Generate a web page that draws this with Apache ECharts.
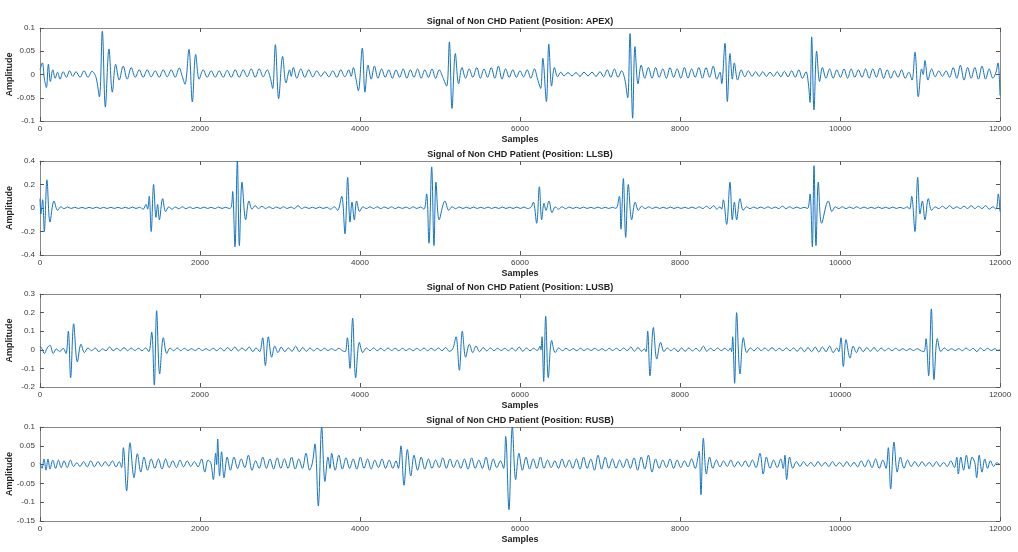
<!DOCTYPE html>
<html>
<head>
<meta charset="utf-8">
<script src="https://cdn.jsdelivr.net/npm/echarts@6/dist/echarts.min.js"></script>
<style>
  html, body { margin: 0; background: #fff; }
  #chart { width: 1018px; height: 552px; }
</style>
</head>
<body>
<div id="chart"></div>
<script>
// peaks and troughs, as [sample, amplitude]
const apex = [
  [0,0.01],[30,0.025],[55,-0.01],[80,-0.028],[105,0.022],[130,-0.015],[160,0.01],[190,-0.008],[220,0.005],[250,-0.01],
  [290,0.006],[330,-0.006],[370,0.008],[410,-0.004],[450,0.006],[500,-0.006],[550,0.008],[600,-0.006],[650,0.007],[700,-0.006],
  [742,-0.048],[779,0.093],[817,-0.07],[862,0.055],[904,-0.038],[946,0.022],[990,-0.012],[1040,0.018],[1090,-0.01],[1140,0.015],
  [1190,-0.006],[1240,0.01],[1290,-0.006],[1340,0.01],[1390,-0.005],[1440,0.008],[1490,-0.006],[1540,0.01],[1590,-0.005],[1640,0.01],
  [1690,-0.006],[1740,0.014],[1780,-0.005],[1812,-0.021],[1862,0.054],[1904,-0.059],[1946,0.043],[1990,-0.01],[2040,0.01],[2090,-0.006],
  [2140,0.008],[2190,-0.006],[2240,0.008],[2290,-0.006],[2340,0.009],[2390,-0.006],[2440,0.01],[2490,-0.006],[2540,0.01],[2590,-0.005],
  [2640,0.012],[2690,-0.006],[2740,0.012],[2790,-0.005],[2840,0.01],[2880,-0.008],[2908,-0.03],[2942,0.064],[2983,-0.052],[3033,0.039],
  [3075,-0.018],[3120,0.01],[3140,-0.004],[3167,0.015],[3210,-0.008],[3260,0.012],[3310,-0.006],[3360,0.01],[3410,-0.005],[3460,0.008],
  [3510,-0.004],[3560,0.006],[3610,-0.005],[3660,0.008],[3710,-0.006],[3760,0.01],[3810,-0.005],[3860,0.01],[3890,-0.004],[3917,0.015],
  [3950,-0.01],[3979,-0.035],[4029,0.057],[4062,-0.038],[4100,0.02],[4140,-0.01],[4180,0.018],[4225,-0.008],[4270,0.012],[4315,-0.006],
  [4360,0.01],[4405,-0.008],[4450,0.01],[4495,-0.006],[4540,0.012],[4585,-0.008],[4630,0.01],[4675,-0.006],[4720,0.012],[4765,-0.008],
  [4810,0.01],[4855,-0.006],[4900,0.012],[4945,-0.008],[4990,0.01],[5035,-0.006],[5083,-0.025],[5117,0.07],[5150,-0.073],[5192,0.045],
  [5233,-0.02],[5275,0.015],[5320,-0.008],[5365,0.012],[5410,-0.006],[5460,0.015],[5505,-0.008],[5550,0.012],[5595,-0.006],[5640,0.015],
  [5685,-0.008],[5730,0.018],[5775,-0.01],[5820,0.012],[5865,-0.006],[5910,0.01],[5955,-0.006],[6000,0.008],[6045,-0.005],[6090,0.01],
  [6135,-0.008],[6180,0.012],[6220,-0.01],[6258,-0.03],[6285,0.035],[6330,-0.058],[6360,0.065],[6395,-0.025],[6430,0.015],[6470,-0.005],
  [6510,0.005],[6550,-0.003],[6600,0.004],[6650,-0.003],[6700,0.004],[6750,-0.004],[6800,0.005],[6850,-0.003],[6900,0.005],[6950,-0.004],
  [7000,0.006],[7045,-0.005],[7090,0.01],[7135,-0.006],[7180,0.012],[7225,-0.006],[7270,0.008],[7310,-0.01],[7346,-0.05],[7375,0.088],
  [7408,-0.094],[7437,0.06],[7475,-0.02],[7515,0.02],[7560,-0.008],[7605,0.015],[7650,-0.008],[7695,0.015],[7740,-0.006],[7785,0.012],
  [7830,-0.008],[7875,0.015],[7920,-0.006],[7965,0.012],[8010,-0.008],[8055,0.015],[8100,-0.008],[8145,0.012],[8190,-0.006],[8235,0.015],
  [8280,-0.008],[8325,0.015],[8370,-0.006],[8415,0.018],[8460,-0.01],[8500,0.005],[8521,-0.02],[8562,0.067],[8592,-0.058],[8625,0.045],
  [8655,-0.01],[8679,0.025],[8720,-0.012],[8765,0.01],[8810,-0.005],[8855,0.008],[8900,-0.004],[8945,0.006],[8990,-0.004],[9035,0.006],
  [9080,-0.004],[9125,0.005],[9170,-0.004],[9215,0.006],[9260,-0.005],[9305,0.007],[9350,-0.005],[9395,0.008],[9440,-0.006],[9485,0.01],
  [9530,-0.008],[9575,0.006],[9605,-0.02],[9625,-0.06],[9646,0.081],[9675,-0.076],[9708,0.05],[9745,-0.015],[9780,0.015],[9825,-0.008],
  [9870,0.012],[9915,-0.008],[9960,0.01],[10005,-0.006],[10050,0.012],[10095,-0.008],[10140,0.012],[10185,-0.006],[10230,0.01],[10275,-0.006],
  [10320,0.012],[10365,-0.008],[10410,0.012],[10455,-0.006],[10500,0.014],[10545,-0.008],[10590,0.01],[10635,-0.008],[10680,0.008],[10725,-0.006],
  [10770,0.01],[10815,-0.008],[10860,0.005],[10900,-0.012],[10937,0.048],[10979,-0.048],[11020,0.012],[11040,0.0],[11062,0.03],[11100,-0.012],
  [11145,0.012],[11190,-0.005],[11235,0.008],[11280,-0.004],[11325,0.008],[11370,-0.006],[11415,0.015],[11460,-0.008],[11505,0.02],[11550,-0.012],
  [11595,0.015],[11640,-0.008],[11685,0.015],[11730,-0.01],[11775,0.018],[11820,-0.01],[11865,0.012],[11910,-0.008],[11950,0.005],[11975,0.025],
  [12000,-0.045]
];

const llsb = [
  [0,0.08],[12,-0.05],[33,0.07],[54,-0.2],[87,0.24],[125,-0.12],[175,0.06],[220,-0.02],[260,0.01],[300,-0.005],
  [345,0.008],[390,-0.004],[435,0.006],[480,-0.004],[525,0.005],[570,-0.004],[615,0.006],[660,-0.004],[705,0.007],[750,-0.004],
  [795,0.005],[840,-0.004],[885,0.006],[930,-0.004],[975,0.006],[1020,-0.004],[1065,0.006],[1110,-0.004],[1155,0.008],[1200,-0.004],
  [1245,0.006],[1290,-0.01],[1325,0.03],[1345,-0.01],[1365,0.1],[1390,-0.2],[1420,0.2],[1450,-0.08],[1470,0.03],[1492,-0.1],
  [1533,0.08],[1570,-0.03],[1610,0.01],[1650,-0.01],[1690,0.008],[1735,-0.006],[1780,0.01],[1825,-0.006],[1870,0.008],[1915,-0.005],
  [1960,0.006],[2005,-0.004],[2050,0.008],[2095,-0.004],[2140,0.006],[2185,-0.005],[2230,0.008],[2275,-0.004],[2320,0.006],[2365,-0.004],
  [2392,0.01],[2408,0.14],[2437,-0.33],[2467,0.4],[2492,-0.32],[2525,0.22],[2571,-0.1],[2612,0.06],[2650,-0.01],[2690,0.02],
  [2730,-0.005],[2775,0.015],[2820,-0.004],[2865,0.01],[2910,-0.005],[2955,0.008],[3000,-0.004],[3045,0.01],[3090,-0.004],[3135,0.008],
  [3180,-0.005],[3225,0.02],[3270,-0.005],[3315,0.008],[3360,-0.004],[3405,0.006],[3450,-0.004],[3495,0.008],[3540,-0.004],[3585,0.006],
  [3630,-0.01],[3680,0.01],[3720,-0.02],[3771,0.1],[3812,-0.22],[3846,0.26],[3875,-0.12],[3900,0.05],[3929,-0.1],[3958,0.06],
  [3995,-0.03],[4035,0.01],[4080,-0.005],[4125,0.01],[4170,-0.004],[4215,0.01],[4260,-0.005],[4305,0.008],[4350,-0.004],[4395,0.01],
  [4440,-0.005],[4485,0.008],[4530,-0.004],[4575,0.008],[4620,-0.005],[4665,0.01],[4710,-0.004],[4755,0.008],[4800,-0.01],[4833,0.12],
  [4862,-0.3],[4896,0.35],[4925,-0.32],[4950,0.22],[4990,-0.1],[5062,0.06],[5110,-0.02],[5150,0.01],[5195,-0.005],[5240,0.008],
  [5285,-0.004],[5330,0.006],[5375,-0.004],[5420,0.008],[5465,-0.004],[5510,0.006],[5555,-0.004],[5600,0.008],[5645,-0.004],[5690,0.006],
  [5735,-0.004],[5780,0.008],[5825,-0.004],[5870,0.006],[5915,-0.004],[5960,0.008],[6005,-0.004],[6050,0.008],[6095,-0.005],[6140,0.01],
  [6167,0.05],[6208,-0.13],[6242,0.18],[6271,-0.1],[6300,0.04],[6325,-0.02],[6362,0.06],[6400,-0.04],[6440,0.01],[6480,-0.01],
  [6525,0.01],[6570,-0.005],[6615,0.008],[6660,-0.004],[6705,0.006],[6750,-0.004],[6795,0.008],[6840,-0.004],[6885,0.006],[6930,-0.004],
  [6975,0.008],[7020,-0.004],[7065,0.006],[7110,-0.004],[7155,0.006],[7200,-0.004],[7242,0.1],[7262,-0.18],[7292,0.25],[7321,-0.25],
  [7354,0.2],[7396,-0.1],[7440,0.05],[7480,-0.02],[7520,0.015],[7565,-0.005],[7610,0.01],[7655,-0.004],[7700,0.008],[7745,-0.004],
  [7790,0.006],[7835,-0.004],[7880,0.008],[7925,-0.004],[7970,0.006],[8015,-0.004],[8060,0.006],[8105,-0.004],[8150,0.008],[8195,-0.004],
  [8240,0.01],[8285,-0.005],[8330,0.015],[8375,-0.005],[8420,0.02],[8460,-0.01],[8500,0.01],[8520,-0.01],[8542,0.07],[8583,-0.14],
  [8625,0.22],[8654,-0.1],[8680,0.05],[8708,-0.1],[8750,0.08],[8790,-0.02],[8830,0.01],[8875,-0.005],[8920,0.008],[8965,-0.004],
  [9010,0.008],[9055,-0.004],[9100,0.01],[9145,-0.004],[9190,0.008],[9235,-0.005],[9280,0.015],[9325,-0.005],[9370,0.01],[9415,-0.004],
  [9460,0.008],[9505,-0.004],[9550,0.006],[9595,-0.004],[9625,0.12],[9654,-0.33],[9675,0.36],[9700,-0.32],[9729,0.22],[9770,-0.13],
  [9854,0.06],[9900,-0.03],[9940,0.01],[9985,-0.005],[10030,0.01],[10075,-0.005],[10120,0.008],[10165,-0.004],[10210,0.01],[10255,-0.004],
  [10300,0.008],[10345,-0.004],[10390,0.006],[10435,-0.004],[10480,0.008],[10525,-0.004],[10570,0.006],[10615,-0.004],[10660,0.008],[10705,-0.004],
  [10750,0.006],[10795,-0.004],[10840,0.01],[10870,-0.01],[10896,0.1],[10937,-0.2],[10971,0.26],[11000,-0.05],[11030,0.06],[11062,-0.1],
  [11104,0.08],[11145,-0.02],[11190,0.01],[11235,-0.005],[11280,0.015],[11325,-0.005],[11370,0.02],[11415,-0.005],[11460,0.01],[11505,-0.005],
  [11550,0.015],[11595,-0.005],[11640,0.02],[11685,-0.005],[11730,0.015],[11775,-0.005],[11820,0.02],[11865,-0.01],[11910,0.01],[11950,-0.01],
  [11979,0.12],[12000,-0.03]
];

const lusb = [
  [0,0.02],[25,0.005],[55,-0.02],[90,0.01],[125,0.025],[165,-0.02],[205,0.005],[245,-0.01],[290,0.008],[325,-0.02],
  [354,0.1],[383,-0.15],[421,0.14],[467,-0.065],[513,0.03],[555,-0.015],[600,0.01],[645,-0.005],[690,0.01],[735,-0.01],
  [780,0.005],[825,-0.005],[870,0.015],[915,-0.005],[960,0.008],[1005,-0.005],[1050,0.012],[1095,-0.005],[1140,0.01],[1185,-0.004],
  [1230,0.008],[1275,-0.005],[1320,0.01],[1360,-0.01],[1396,0.095],[1429,-0.19],[1458,0.21],[1496,-0.13],[1542,0.065],[1585,-0.02],
  [1625,0.01],[1670,-0.005],[1715,0.01],[1760,-0.005],[1805,0.008],[1850,-0.004],[1895,0.006],[1940,-0.004],[1985,0.008],[2030,-0.004],
  [2075,0.006],[2120,-0.004],[2165,0.008],[2210,-0.005],[2255,0.01],[2300,-0.006],[2345,0.012],[2390,-0.005],[2435,0.015],[2480,-0.006],
  [2525,0.01],[2570,-0.005],[2615,0.015],[2660,-0.01],[2700,0.01],[2745,-0.01],[2783,0.065],[2817,-0.085],[2854,0.07],[2896,-0.04],
  [2935,0.02],[2975,-0.015],[3015,0.015],[3060,-0.01],[3105,0.01],[3150,-0.008],[3195,0.02],[3240,-0.01],[3285,0.012],[3330,-0.008],
  [3375,0.01],[3420,-0.006],[3465,0.008],[3510,-0.005],[3555,0.008],[3600,-0.004],[3645,0.006],[3690,-0.004],[3735,0.008],[3780,-0.005],
  [3815,-0.01],[3842,0.065],[3875,-0.1],[3908,0.17],[3946,-0.15],[3992,0.04],[4035,-0.015],[4080,0.01],[4125,-0.005],[4170,0.01],
  [4215,-0.005],[4260,0.008],[4305,-0.005],[4350,0.01],[4395,-0.004],[4440,0.008],[4485,-0.005],[4530,0.008],[4575,-0.004],[4620,0.006],
  [4665,-0.005],[4710,0.008],[4755,-0.004],[4800,0.01],[4845,-0.005],[4890,0.008],[4935,-0.004],[4980,0.01],[5025,-0.005],[5070,0.012],
  [5115,-0.008],[5160,0.005],[5200,0.07],[5242,-0.11],[5279,0.1],[5321,-0.04],[5367,0.03],[5410,-0.015],[5450,0.02],[5495,-0.01],
  [5540,0.012],[5585,-0.006],[5630,0.01],[5675,-0.005],[5720,0.008],[5765,-0.004],[5810,0.008],[5855,-0.005],[5900,0.01],[5945,-0.006],
  [5990,0.015],[6035,-0.008],[6080,0.01],[6125,-0.005],[6170,0.008],[6215,-0.004],[6252,0.02],[6262,0.0],[6275,0.07],[6296,-0.17],
  [6321,0.18],[6354,-0.15],[6396,0.05],[6440,-0.015],[6485,0.01],[6530,-0.005],[6575,0.008],[6620,-0.004],[6665,0.006],[6710,-0.005],
  [6755,0.008],[6800,-0.004],[6845,0.006],[6890,-0.004],[6935,0.008],[6980,-0.004],[7025,0.006],[7070,-0.005],[7115,0.008],[7160,-0.004],
  [7205,0.008],[7250,-0.005],[7295,0.01],[7340,-0.005],[7385,0.015],[7430,-0.008],[7475,0.012],[7520,-0.008],[7555,0.005],[7575,-0.01],
  [7596,0.1],[7625,-0.14],[7667,0.12],[7710,-0.05],[7758,0.04],[7800,-0.01],[7840,0.01],[7885,-0.005],[7930,0.008],[7975,-0.01],
  [8020,0.01],[8065,-0.008],[8110,0.01],[8155,-0.006],[8200,0.008],[8245,-0.008],[8292,0.02],[8335,-0.008],[8380,0.008],[8425,-0.005],
  [8470,0.01],[8515,-0.005],[8560,0.008],[8605,-0.005],[8630,0.01],[8645,-0.01],[8658,0.07],[8683,-0.18],[8708,0.2],[8750,-0.13],
  [8792,0.065],[8835,-0.015],[8880,0.01],[8925,-0.006],[8970,0.012],[9015,-0.005],[9060,0.01],[9105,-0.005],[9150,0.012],[9195,-0.005],
  [9240,0.008],[9285,-0.005],[9330,0.01],[9375,-0.006],[9420,0.01],[9465,-0.008],[9510,0.012],[9555,-0.01],[9600,0.012],[9645,-0.01],
  [9690,0.015],[9735,-0.012],[9780,0.015],[9825,-0.01],[9870,0.02],[9915,-0.015],[9960,0.01],[9985,-0.01],[10012,0.065],[10042,-0.09],
  [10075,0.055],[10125,-0.045],[10165,0.02],[10205,-0.015],[10245,0.015],[10290,-0.01],[10335,0.012],[10380,-0.008],[10425,0.012],[10470,-0.008],
  [10515,0.01],[10560,-0.006],[10605,0.008],[10650,-0.005],[10695,0.008],[10740,-0.004],[10785,0.006],[10830,-0.004],[10875,0.006],[10920,-0.004],
  [10965,0.006],[11010,-0.005],[11050,-0.01],[11075,0.06],[11108,-0.14],[11142,0.22],[11175,-0.16],[11217,0.06],[11260,-0.01],[11305,0.01],
  [11350,-0.004],[11395,0.006],[11440,-0.004],[11485,0.006],[11530,-0.005],[11575,0.01],[11620,-0.004],[11665,0.008],[11710,-0.01],[11755,0.01],
  [11800,-0.005],[11845,0.008],[11890,-0.004],[11935,0.006],[11970,-0.003],[12000,0.0]
];

const rusb = [
  [0,0.005],[25,-0.01],[50,0.015],[75,-0.015],[100,0.015],[125,-0.012],[160,0.012],[195,-0.01],[230,0.012],[265,-0.008],
  [300,0.01],[340,-0.008],[380,0.012],[420,-0.005],[460,0.005],[500,-0.005],[545,0.008],[590,-0.006],[635,0.01],[680,-0.006],
  [725,0.008],[770,-0.005],[815,0.008],[860,-0.004],[905,0.01],[950,-0.006],[990,0.008],[1020,-0.008],[1042,0.045],[1083,-0.07],
  [1125,0.058],[1175,-0.035],[1217,0.029],[1260,-0.02],[1300,0.02],[1345,-0.015],[1390,0.015],[1435,-0.01],[1480,0.015],[1525,-0.012],
  [1570,0.015],[1615,-0.008],[1660,0.01],[1705,-0.008],[1750,0.012],[1795,-0.006],[1840,0.01],[1885,-0.005],[1930,0.008],[1975,-0.006],
  [2020,0.015],[2060,-0.02],[2100,0.012],[2135,0.005],[2167,-0.04],[2195,0.03],[2208,0.0],[2221,0.068],[2245,-0.03],[2270,0.034],
  [2300,-0.035],[2340,0.02],[2380,-0.015],[2425,0.02],[2470,-0.01],[2515,0.015],[2560,-0.008],[2605,0.025],[2650,-0.015],[2695,0.01],
  [2740,-0.01],[2785,0.02],[2830,-0.01],[2875,0.015],[2920,-0.012],[2965,0.018],[3010,-0.01],[3055,0.015],[3100,-0.01],[3145,0.02],
  [3190,-0.012],[3235,0.015],[3280,-0.01],[3325,0.03],[3370,-0.015],[3405,0.005],[3437,0.055],[3479,-0.11],[3521,0.1],[3562,-0.045],
  [3600,0.02],[3625,-0.01],[3646,0.03],[3690,-0.015],[3735,0.025],[3780,-0.012],[3825,0.018],[3870,-0.01],[3915,0.015],[3960,-0.012],
  [4005,0.02],[4050,-0.01],[4095,0.015],[4140,-0.012],[4185,0.012],[4230,-0.008],[4275,0.015],[4320,-0.01],[4365,0.012],[4410,-0.01],
  [4450,0.01],[4480,-0.01],[4512,0.05],[4550,-0.055],[4592,0.04],[4635,-0.03],[4675,0.025],[4720,-0.015],[4765,0.02],[4810,-0.012],
  [4855,0.015],[4900,-0.01],[4945,0.012],[4990,-0.008],[5035,0.018],[5080,-0.01],[5125,0.015],[5170,-0.008],[5215,0.012],[5260,-0.01],
  [5305,0.015],[5350,-0.012],[5395,0.018],[5440,-0.01],[5485,0.012],[5530,-0.01],[5575,0.02],[5620,-0.015],[5665,0.015],[5710,-0.008],
  [5755,0.01],[5795,-0.01],[5821,0.075],[5862,-0.12],[5904,0.1],[5946,-0.04],[5987,0.03],[6030,-0.015],[6075,0.02],[6120,-0.012],
  [6165,0.015],[6210,-0.01],[6255,0.02],[6300,-0.01],[6345,0.012],[6390,-0.008],[6435,0.01],[6480,-0.01],[6525,0.015],[6570,-0.008],
  [6615,0.012],[6660,-0.01],[6705,0.015],[6750,-0.012],[6795,0.02],[6840,-0.01],[6885,0.015],[6930,-0.015],[6975,0.025],[7020,-0.012],
  [7065,0.02],[7110,-0.01],[7155,0.015],[7200,-0.01],[7245,0.012],[7290,-0.008],[7335,0.015],[7380,-0.01],[7425,0.018],[7470,-0.015],
  [7515,0.02],[7560,-0.012],[7605,0.025],[7650,-0.02],[7695,0.015],[7740,-0.01],[7785,0.012],[7830,-0.008],[7875,0.015],[7920,-0.01],
  [7965,0.012],[8010,-0.008],[8055,0.01],[8100,-0.006],[8145,0.015],[8190,-0.01],[8225,0.02],[8240,0.035],[8262,-0.08],[8292,0.07],
  [8330,-0.025],[8370,0.02],[8410,-0.01],[8455,0.012],[8500,-0.006],[8545,0.01],[8590,-0.005],[8635,0.012],[8680,-0.006],[8725,0.008],
  [8770,-0.005],[8815,0.01],[8860,-0.006],[8905,0.012],[8950,-0.008],[9000,0.03],[9040,-0.025],[9080,0.02],[9125,-0.01],[9170,0.012],
  [9215,-0.008],[9260,0.015],[9290,-0.01],[9312,0.025],[9333,-0.04],[9370,0.02],[9410,-0.01],[9455,0.008],[9500,-0.005],[9545,0.008],
  [9590,-0.004],[9635,0.006],[9680,-0.005],[9725,0.008],[9770,-0.004],[9815,0.006],[9860,-0.005],[9905,0.008],[9950,-0.004],[9995,0.006],
  [10040,-0.005],[10085,0.008],[10130,-0.005],[10175,0.006],[10220,-0.006],[10265,0.01],[10310,-0.006],[10355,0.012],[10400,-0.008],[10445,0.015],
  [10490,-0.01],[10535,0.012],[10575,-0.01],[10604,0.045],[10633,-0.065],[10675,0.06],[10715,-0.02],[10755,0.02],[10800,-0.01],[10845,0.012],
  [10890,-0.005],[10935,0.008],[10980,-0.005],[11025,0.008],[11070,-0.004],[11115,0.006],[11160,-0.005],[11205,0.008],[11250,-0.005],[11295,0.006],
  [11340,-0.005],[11385,0.01],[11430,-0.008],[11460,0.02],[11479,-0.025],[11510,0.02],[11545,-0.015],[11580,0.025],[11615,-0.012],[11650,0.02],
  [11685,0.005],[11708,-0.035],[11740,0.025],[11775,-0.02],[11810,0.015],[11845,-0.01],[11880,0.01],[11920,-0.005],[11960,0.005],[12000,0.0]
];

const positions = ['APEX', 'LLSB', 'LUSB', 'RUSB'];
const traces = [apex, llsb, lusb, rusb];
const yMins = [-0.1, -0.4, -0.2, -0.15];
const yMaxs = [0.1, 0.4, 0.3, 0.1];
const yIntervals = [0.05, 0.2, 0.1, 0.05];
const xMax = 12000;
const xInterval = 2000;

// layout of the four panels
const panelTop = [28, 161, 294, 427];
const panelHeight = [93, 94, 93, 94];

const lineColor = '#1673c2';
const boxColor = '#8a8a8a';
const textColor = '#3a3a3a';
const font = 'Liberation Sans, Arial, sans-serif';
const plain = v => String(v);

const grid = [];
const xAxis = [];
const yAxis = [];
const series = [];

positions.forEach((pos, i) => {
  grid.push({
    left: 40, width: 960, top: panelTop[i], height: panelHeight[i],
    containLabel: false, outerBoundsMode: 'none'
  });

  const tick = { show: true, inside: true, length: 4, lineStyle: { color: '#555' } };
  const line = { show: true, onZero: false, lineStyle: { color: boxColor, width: 1 } };

  // bottom axis with labels
  xAxis.push({
    type: 'value', gridIndex: i, min: 0, max: xMax, interval: xInterval,
    position: 'bottom',
    axisLine: line, axisTick: tick, splitLine: { show: false },
    axisLabel: { color: textColor, fontSize: 8, fontFamily: font, margin: 4, formatter: plain,
                 showMinLabel: true, showMaxLabel: true },
    name: 'Samples', nameLocation: 'middle', nameGap: 14, nameMoveOverlap: false,
    nameTextStyle: { color: '#222', fontSize: 9, fontWeight: 'bold', fontFamily: font }
  });
  // top axis: mirrored ticks, carries the panel title
  xAxis.push({
    type: 'value', gridIndex: i, min: 0, max: xMax, interval: xInterval,
    position: 'top',
    axisLine: line, axisTick: tick, splitLine: { show: false },
    axisLabel: { show: false },
    name: 'Signal of Non CHD Patient (Position: ' + pos + ')', nameLocation: 'middle', nameGap: 2,
    nameMoveOverlap: false,
    nameTextStyle: { color: '#222', fontSize: 9, fontWeight: 'bold', fontFamily: font }
  });

  yAxis.push({
    type: 'value', gridIndex: i, min: yMins[i], max: yMaxs[i], interval: yIntervals[i],
    position: 'left',
    axisLine: line, axisTick: tick, splitLine: { show: false },
    axisLabel: { color: textColor, fontSize: 8, fontFamily: font, margin: 5, formatter: plain,
                 showMinLabel: true, showMaxLabel: true },
    name: 'Amplitude', nameLocation: 'middle', nameGap: 26, nameRotate: 90, nameMoveOverlap: false,
    nameTextStyle: { color: '#222', fontSize: 9, fontWeight: 'bold', fontFamily: font }
  });
  yAxis.push({
    type: 'value', gridIndex: i, min: yMins[i], max: yMaxs[i], interval: yIntervals[i],
    position: 'right',
    axisLine: line, axisTick: tick, splitLine: { show: false },
    axisLabel: { show: false }
  });

  series.push({
    type: 'line',
    xAxisIndex: i * 2,
    yAxisIndex: i * 2,
    data: traces[i],
    showSymbol: false,
    smooth: 0.35,
    clip: true,
    lineStyle: { color: lineColor, width: 1 },
    emphasis: { disabled: true }
  });
});

const chart = echarts.init(document.getElementById('chart'));
chart.setOption({
  backgroundColor: '#ffffff',
  animation: false,
  grid: grid,
  xAxis: xAxis,
  yAxis: yAxis,
  series: series
});
</script>
</body>
</html>
